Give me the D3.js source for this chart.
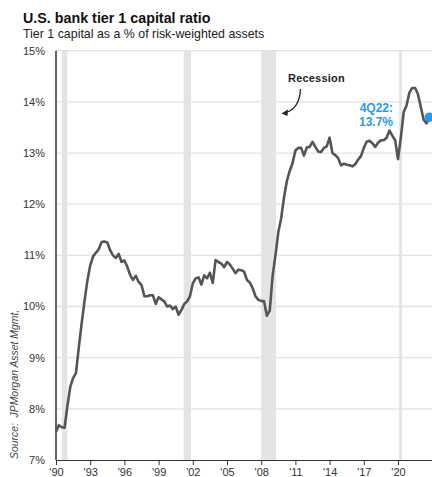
<!DOCTYPE html>
<html><head><meta charset="utf-8">
<script src="https://cdn.jsdelivr.net/npm/d3@7"></script>
<style>body{margin:0;background:#fff}svg{display:block;font-family:"Liberation Sans",Arial,sans-serif}</style>
</head><body><svg id="c" width="432" height="477"></svg>
<script>
const startYear = 1990;
const values = [
 7.55,7.68,7.64,7.63,
 8.05,8.43,8.6,8.7,
 9.2,9.67,10.1,10.5,
 10.8,10.98,11.05,11.12,
 11.26,11.27,11.25,11.1,
 11.0,10.95,11.03,10.87,
 10.9,10.78,10.62,10.52,
 10.6,10.48,10.42,10.2,
 10.2,10.22,10.22,10.05,
 10.18,10.14,10.1,10.0,
 10.02,9.95,10.0,9.84,
 9.93,10.05,10.1,10.2,
 10.45,10.55,10.57,10.43,
 10.61,10.55,10.66,10.46,
 10.91,10.87,10.84,10.77,
 10.87,10.82,10.74,10.65,
 10.72,10.71,10.68,10.52,
 10.47,10.36,10.2,10.13,
 10.11,10.1,9.82,9.92,
 10.6,11.0,11.45,11.72,
 12.13,12.45,12.65,12.8,
 13.05,13.1,13.1,12.95,
 13.11,13.12,13.22,13.12,
 13.03,13.02,13.1,13.13,
 13.3,13.0,12.96,12.9,
 12.76,12.79,12.77,12.76,
 12.74,12.78,12.87,12.94,
 13.1,13.22,13.24,13.19,
 13.12,13.2,13.25,13.25,
 13.3,13.44,13.34,13.25,
 12.88,13.3,13.8,13.93,
 14.18,14.27,14.27,14.15,
 13.9,13.65,13.58,13.7
];
const recessions = [[1990.5,1991.0],[2001.2,2001.85],[2008.0,2009.3],[2020.1,2020.35]];
const yTicks = [7,8,9,10,11,12,13,14,15];
const xTicks = [1990,1993,1996,1999,2002,2005,2008,2011,2014,2017,2020];
const lastLabel = ["4Q22:","13.7%"];

const data = values.map((v,i)=>({t:startYear+i/4, v}));
const svg = d3.select("#c");
const x = d3.scaleLinear().domain([1990,2023]).range([56,432.2]);
const y = d3.scaleLinear().domain([7,15]).range([460,50.7]);

svg.append("text").attr("x",23).attr("y",23).attr("font-size",14.3).attr("font-weight","bold").attr("fill","#111").text("U.S. bank tier 1 capital ratio");
svg.append("text").attr("x",23).attr("y",37.5).attr("font-size",12.4).attr("fill","#222").text("Tier 1 capital as a % of risk-weighted assets");

// recession bands
svg.append("g").selectAll("rect").data(recessions).join("rect")
 .attr("x",d=>x(d[0])).attr("width",d=>x(d[1])-x(d[0]))
 .attr("y",y(15)).attr("height",y(7)-y(15)).attr("fill","#e4e4e4");

// gridlines
svg.append("g").selectAll("line").data(yTicks.filter(d=>d>7)).join("line")
 .attr("x1",56).attr("x2",432).attr("y1",d=>y(d)).attr("y2",d=>y(d))
 .attr("stroke","#e3e3e3").attr("stroke-width",1.3);

// y labels
svg.append("g").selectAll("text").data(yTicks).join("text")
 .attr("x",45).attr("y",d=>y(d)).attr("dy","0.35em").attr("text-anchor","end")
 .attr("font-size",11).attr("fill","#333").text(d=>d+"%");

// x axis
const xa = svg.append("g").attr("transform",`translate(0,${y(7)})`)
 .call(d3.axisBottom(x).tickValues(xTicks).tickSize(5).tickSizeOuter(0).tickFormat(d=>"'"+String(d).slice(2)));
xa.select(".domain").attr("stroke","#333");
xa.selectAll(".tick line").attr("stroke","#333");
xa.selectAll(".tick text").attr("font-size",11).attr("fill","#333").attr("y",8).attr("dy","0.71em").attr("font-family","Liberation Sans, Arial, sans-serif");

// y axis line
svg.append("line").attr("x1",56).attr("x2",56).attr("y1",y(15)).attr("y2",y(7)).attr("stroke","#111").attr("stroke-width",1.3);

// line
svg.append("path").datum(data).attr("fill","none").attr("stroke","#555").attr("stroke-width",2.6)
 .attr("stroke-linejoin","round").attr("d",d3.line().x(d=>x(d.t)).y(d=>y(d.v)));

// last point
const last = data[data.length-1];
svg.append("circle").attr("cx",x(last.t)).attr("cy",y(last.v)).attr("r",4.8).attr("fill","#1f9bf0");
svg.append("text").attr("x",393).attr("y",112).attr("text-anchor","end").attr("font-size",12).attr("font-weight","bold").attr("fill","#1f9bf0").text(lastLabel[0]);
svg.append("text").attr("x",393).attr("y",126).attr("text-anchor","end").attr("font-size",12).attr("font-weight","bold").attr("fill","#1f9bf0").text(lastLabel[1]);

// recession annotation
svg.append("text").attr("x",288).attr("y",81.5).attr("font-size",11).attr("font-weight","bold").attr("letter-spacing",0.2).attr("fill","#222").text("Recession");
svg.append("path").attr("d","M300.5,89 C300,100 297,109 286,112.5").attr("fill","none").attr("stroke","#222").attr("stroke-width",1.3);
svg.append("path").attr("d","M281.5,113.5 L288,109.5 L287.5,116 Z").attr("fill","#222");

// source
svg.append("text").attr("transform","translate(18,459) rotate(-90)").attr("font-size",10.4).attr("font-style","italic").attr("fill","#444").attr("xml:space","preserve").text("Source:  JPMorgan Asset Mgmt,");
</script></body></html>
